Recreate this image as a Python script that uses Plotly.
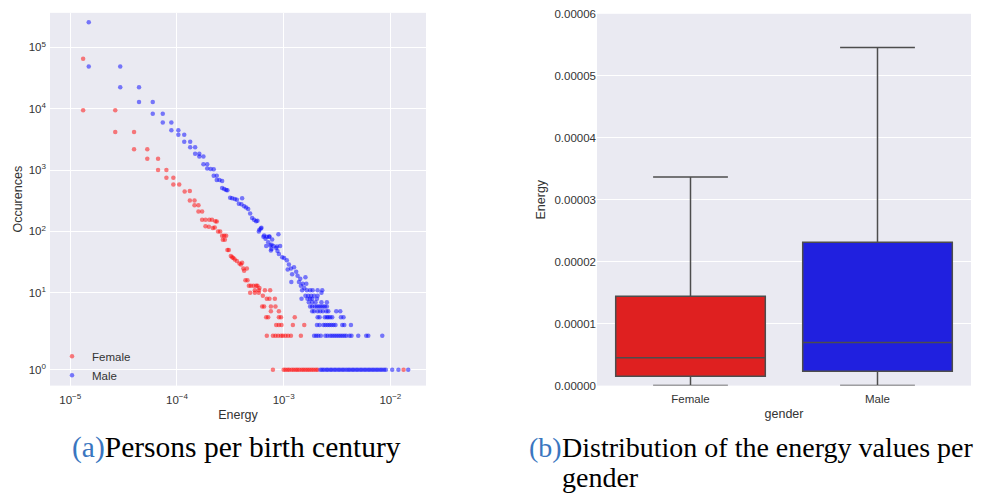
import numpy as np
import plotly.graph_objects as go

# ---------------------------------------------------------------- data
# (a) energy value vs. number of persons having it
female_energy = [
    1.32e-5, 1.32e-5, 2.64e-5, 2.64e-5, 3.96e-5, 3.96e-5, 5.27e-5, 5.27e-5,
    6.65e-5, 6.65e-5, 7.96e-5, 7.96e-5, 9.25e-5, 9.25e-5, 1.05e-4, 1.18e-4,
    1.32e-4, 1.32e-4, 1.46e-4, 1.46e-4, 1.59e-4, 1.59e-4, 1.72e-4, 1.72e-4,
    1.85e-4, 2.01e-4, 2.13e-4, 2.29e-4, 2.36e-4, 1.85e-4, 1.99e-4, 2.17e-4, 2.26e-4,
    2.43e-4, 2.54e-4, 2.65e-4, 2.77e-4, 2.89e-4, 2.69e-4, 2.81e-4,
    2.97e-4, 3.06e-4, 3.20e-4, 3.29e-4, 3.38e-4, 3.48e-4, 3.64e-4, 3.85e-4, 4.08e-4, 3.97e-4,
    4.19e-4, 4.52e-4, 4.26e-4, 4.38e-4, 4.58e-4,
    4.72e-4, 4.92e-4, 5.21e-4, 5.52e-4, 5.68e-4, 5.93e-4,
    5.37e-4, 5.85e-4, 6.67e-4, 7.47e-4,
    4.85e-4, 5.37e-4, 5.85e-4, 6.38e-4,
    6.95e-4, 7.36e-4, 8.27e-4,
    6.29e-4, 6.56e-4, 7.59e-4, 8.38e-4,
    7.59e-4, 9.02e-4,
    6.86e-4, 7.16e-4, 9.02e-4, 9.43e-4, 1.27e-3,
    8.51e-4, 9.02e-4, 9.54e-4, 1.22e-3, 1.56e-3,
    6.95e-4, 7.93e-4, 8.38e-4, 8.87e-4, 9.43e-4, 9.82e-4, 1.04e-3, 1.10e-3, 1.17e-3, 1.45e-3,
    7.93e-4, 1.00e-3, 1.04e-3, 1.09e-3, 1.13e-3, 1.19e-3, 1.24e-3, 1.30e-3, 1.35e-3, 1.41e-3,
    1.48e-3, 1.54e-3, 1.61e-3, 1.68e-3, 1.75e-3, 1.83e-3, 1.91e-3, 2.00e-3, 2.08e-3, 1.33e-2,
]
female_count = [
    65200, 9440, 9440, 4180, 4180, 2180, 2180, 1530,
    1530, 1000, 1000, 747, 747, 583, 583, 447,
    458, 318, 318, 267, 267, 212, 212, 155,
    155, 155, 155, 147, 145, 122, 119, 114, 116,
    100, 100, 85, 85, 85, 73, 73,
    50, 50, 40, 38, 37, 35, 33, 30, 31, 29,
    25, 25, 23, 16, 16,
    13, 13, 13, 13, 13, 12,
    11, 11, 11, 11,
    10, 10, 10, 9,
    8, 8, 8,
    6, 6, 6, 6,
    5, 5,
    4, 4, 4, 4, 4,
    3, 3, 3, 3, 3,
    2, 2, 2, 2, 2, 2, 2, 2, 2, 2,
    1, 1, 1, 1, 1, 1, 1, 1, 1, 1,
    1, 1, 1, 1, 1, 1, 1, 1, 1, 1,
]

male_energy = [
    1.49e-5, 1.49e-5, 2.94e-5, 2.94e-5, 4.41e-5, 4.41e-5, 5.93e-5, 5.93e-5,
    7.36e-5, 7.36e-5, 8.86e-5, 8.86e-5, 1.03e-4, 1.03e-4, 1.17e-4, 1.17e-4,
    1.33e-4, 1.33e-4, 1.48e-4, 1.48e-4, 1.62e-4, 1.62e-4, 1.77e-4, 1.77e-4,
    1.92e-4, 1.92e-4, 2.07e-4, 2.21e-4, 2.21e-4, 2.36e-4, 2.36e-4, 2.50e-4,
    2.65e-4, 2.65e-4, 2.77e-4, 2.89e-4, 2.97e-4, 3.15e-4, 3.29e-4, 3.48e-4,
    3.64e-4, 4.08e-4, 3.80e-4, 4.02e-4, 4.26e-4, 4.45e-4, 4.65e-4, 4.85e-4,
    5.06e-4, 5.28e-4, 5.52e-4, 5.68e-4, 5.93e-4, 6.11e-4, 5.85e-4, 6.19e-4,
    6.56e-4, 6.95e-4, 7.36e-4, 7.80e-4, 8.93e-4, 7.16e-4, 7.69e-4, 6.86e-4,
    8.02e-4, 8.51e-4, 8.75e-4, 7.59e-4, 6.46e-4, 6.76e-4, 7.31e-4, 7.47e-4,
    8.65e-4, 9.27e-4, 7.69e-4, 9.02e-4, 9.69e-4, 1.01e-3, 1.07e-3, 1.12e-3,
    1.09e-3, 1.17e-3, 1.25e-3, 1.31e-3, 1.20e-3, 1.35e-3, 1.43e-3, 1.60e-3,
    1.18e-3, 1.39e-3, 1.51e-3, 1.63e-3, 1.45e-3, 1.56e-3, 1.65e-3, 1.77e-3,
    1.49e-3, 1.87e-3, 2.08e-3, 2.30e-3, 2.26e-3,
    1.60e-3, 1.70e-3, 1.81e-3, 1.93e-3, 2.08e-3,
    1.47e-3, 1.67e-3, 1.77e-3, 1.85e-3, 2.05e-3,
    1.72e-3, 1.85e-3, 1.99e-3, 2.26e-3, 2.54e-3,
    1.77e-3, 1.85e-3, 1.96e-3, 2.05e-3, 2.14e-3, 2.23e-3, 2.33e-3, 2.43e-3, 2.54e-3,
    1.85e-3, 1.93e-3, 2.08e-3, 2.20e-3, 2.33e-3, 2.51e-3, 2.62e-3, 3.11e-3, 3.39e-3,
    2.08e-3, 2.17e-3, 2.43e-3, 2.54e-3, 2.62e-3, 2.73e-3, 2.85e-3, 3.44e-3, 3.64e-3,
    2.05e-3, 2.17e-3, 2.36e-3, 2.46e-3, 2.58e-3, 2.69e-3, 2.81e-3, 2.93e-3, 3.06e-3,
    3.54e-3, 3.70e-3, 4.27e-3,
    1.93e-3, 2.02e-3, 2.11e-3, 2.23e-3, 2.46e-3, 2.58e-3, 2.73e-3, 2.85e-3, 2.98e-3,
    3.11e-3, 3.25e-3, 3.39e-3, 3.54e-3, 3.70e-3, 3.86e-3, 4.14e-3, 4.32e-3, 5.00e-3,
    5.94e-3, 6.21e-3, 8.40e-3,
    2.21e-3, 2.30e-3, 2.39e-3, 2.51e-3, 2.60e-3, 2.73e-3, 2.83e-3, 2.97e-3, 3.09e-3,
    3.24e-3, 3.37e-3, 3.53e-3, 3.67e-3, 3.85e-3, 4.02e-3, 4.18e-3, 4.38e-3, 4.55e-3,
    4.77e-3, 4.96e-3, 5.20e-3, 5.41e-3, 5.67e-3, 5.90e-3, 6.18e-3, 6.43e-3, 6.73e-3,
    7.01e-3, 7.34e-3, 7.64e-3, 8.00e-3, 8.33e-3, 8.72e-3, 9.08e-3, 1.04e-2, 1.19e-2,
    1.47e-2,
]
male_count = [
    255000, 48600, 48600, 22300, 22300, 12860, 12860, 8280,
    8280, 5960, 5960, 4440, 4440, 3780, 3780, 2890,
    2890, 2350, 2350, 1850, 1850, 1670, 1670, 1250,
    1250, 1065, 1040, 1030, 811, 811, 686, 686,
    661, 512, 493, 475, 467, 355, 346, 337,
    330, 346, 284, 277, 258, 246, 233, 197,
    166, 155, 147, 150, 107, 112, 100, 115,
    86, 82, 83, 74, 90, 67, 61, 58,
    58, 54, 48, 49, 82, 76, 82, 59,
    57, 58, 52, 43, 38, 37, 34, 29,
    24, 25, 26, 22, 20, 19, 17, 18,
    15, 15, 14, 14, 13, 12, 11, 11,
    11, 11, 11, 11, 10,
    9, 9, 9, 9, 9,
    8, 8, 8, 8, 8,
    7, 7, 7, 7, 7,
    6, 6, 6, 6, 6, 6, 6, 6, 6,
    5, 5, 5, 5, 5, 5, 5, 5, 5,
    4, 4, 4, 4, 4, 4, 4, 4, 4,
    3, 3, 3, 3, 3, 3, 3, 3, 3,
    3, 3, 3,
    2, 2, 2, 2, 2, 2, 2, 2, 2,
    2, 2, 2, 2, 2, 2, 2, 2, 2,
    2, 2, 2,
    1, 1, 1, 1, 1, 1, 1, 1, 1,
    1, 1, 1, 1, 1, 1, 1, 1, 1,
    1, 1, 1, 1, 1, 1, 1, 1, 1,
    1, 1, 1, 1, 1, 1, 1, 1, 1,
    1,
]
assert len(female_energy) == len(female_count)
assert len(male_energy) == len(male_count)

# (b) box-plot summary of the energy values per gender
genders = ["Female", "Male"]
energy_q1 = [1.53e-6, 2.32e-6]
energy_median = [4.48e-6, 6.94e-6]
energy_q3 = [1.442e-5, 2.314e-5]
energy_low = [0.0, 0.0]
energy_high = [3.366e-5, 5.457e-5]
box_colors = ["rgb(223,32,32)", "rgb(32,32,223)"]

count_ticks = [1, 10, 100, 1000, 10000, 100000]
energy_ticks = [1e-5, 1e-4, 1e-3, 1e-2]

# ---------------------------------------------------------------- helpers
# symmetric-log scale (linear below the threshold, log10 above)
LINTHRESH = 2.0
LINSCALE_ADJ = 1.0 / (1.0 - 1.0 / 10.0)


def symlog(values):
    v = np.asarray(values, dtype=float)
    return np.where(
        v <= LINTHRESH,
        v * LINSCALE_ADJ,
        LINTHRESH * (LINSCALE_ADJ + np.log10(np.maximum(v, LINTHRESH) / LINTHRESH)),
    )


W, H = 984, 497


def px(x):
    return x / W


def py(y):
    return 1 - y / H


FONT = "Liberation Sans, Arial, sans-serif"
TXT = "#333333"
BG = "#EAEAF2"

fig = go.Figure()

fig.add_trace(go.Scatter(
    x=female_energy, y=symlog(female_count), customdata=female_count,
    mode="markers", name="Female",
    marker=dict(size=4.5, color="rgba(255,0,0,0.5)", line=dict(width=0)),
    hovertemplate="%{x}: %{customdata}<extra>Female</extra>",
    xaxis="x", yaxis="y",
))
fig.add_trace(go.Scatter(
    x=male_energy, y=symlog(male_count), customdata=male_count,
    mode="markers", name="Male",
    marker=dict(size=4.5, color="rgba(0,0,255,0.5)", line=dict(width=0)),
    hovertemplate="%{x}: %{customdata}<extra>Male</extra>",
    xaxis="x", yaxis="y",
))

for i, g in enumerate(genders):
    fig.add_trace(go.Box(
        x=[g], q1=[energy_q1[i]], median=[energy_median[i]], q3=[energy_q3[i]],
        lowerfence=[energy_low[i]], upperfence=[energy_high[i]],
        fillcolor=box_colors[i], line=dict(color="#4d4d4d", width=1.5),
        width=0.8, whiskerwidth=0.5, boxpoints=False, showlegend=False, name=g,
        xaxis="x2", yaxis="y2",
    ))

y_lo, y_hi = 0.597, 12.744

fig.update_layout(
    width=W, height=H,
    margin=dict(l=0, r=0, t=0, b=0),
    paper_bgcolor="white", plot_bgcolor=BG,
    font=dict(family=FONT, size=11.5, color=TXT),
    boxmode="overlay",
    showlegend=True,
    legend=dict(
        x=px(52), y=py(344), xanchor="left", yanchor="top",
        bgcolor="rgba(0,0,0,0)", font=dict(size=11.5, color=TXT),
        itemwidth=30, tracegroupgap=0,
    ),
    xaxis=dict(
        domain=[px(50), px(426)], anchor="y", type="log",
        range=[-5.190, -1.666],
        tickvals=energy_ticks,
        ticktext=["10<sup>−5</sup>", "10<sup>−4</sup>", "10<sup>−3</sup>", "10<sup>−2</sup>"],
        showgrid=True, gridcolor="white", gridwidth=1, zeroline=False,
        showline=False, ticks="", ticklabelstandoff=6,
        title=dict(text="Energy", font=dict(size=12.5), standoff=5),
    ),
    yaxis=dict(
        domain=[py(389), py(7)], anchor="x",
        range=[y_lo, y_hi],
        tickvals=list(symlog(count_ticks)),
        ticktext=["10<sup>%d</sup>" % k for k in range(6)],
        showgrid=True, gridcolor="white", gridwidth=1, zeroline=False,
        showline=False, ticks="", ticklabelstandoff=3,
        title=dict(text="Occurences", font=dict(size=12.5), standoff=3),
    ),
    xaxis2=dict(
        domain=[px(597), px(971)], anchor="y2",
        categoryorder="array", categoryarray=genders,
        range=[-0.5, 1.5],
        showgrid=False, zeroline=False, showline=False, ticks="",
        ticklabelstandoff=5,
        title=dict(text="gender", font=dict(size=12.5), standoff=5),
    ),
    yaxis2=dict(
        domain=[py(389), py(8)], anchor="x2",
        range=[0, 6e-5], dtick=1e-5, tickformat=".5f",
        showgrid=True, gridcolor="white", gridwidth=1, zeroline=False,
        showline=False, ticks="",
        title=dict(text="Energy", font=dict(size=12.5), standoff=6),
    ),
)

# sub-figure captions
SERIF = "Liberation Serif, Times New Roman, serif"
CAP_BLUE = "#3a76c0"
fig.add_annotation(
    xref="paper", yref="paper", x=px(70), y=py(452), xanchor="left", yanchor="middle",
    text="<span style='color:%s'>(a)</span>Persons per birth century" % CAP_BLUE,
    showarrow=False, font=dict(family=SERIF, size=29.5, color="black"),
)
fig.add_annotation(
    xref="paper", yref="paper", x=px(527), y=py(452), xanchor="left", yanchor="middle",
    text="(b)", showarrow=False, font=dict(family=SERIF, size=28, color=CAP_BLUE),
)
fig.add_annotation(
    xref="paper", yref="paper", x=px(560), y=py(452), xanchor="left", yanchor="middle",
    text="Distribution of the energy values per", showarrow=False,
    font=dict(family=SERIF, size=28, color="black"),
)
fig.add_annotation(
    xref="paper", yref="paper", x=px(560), y=py(483), xanchor="left", yanchor="middle",
    text="gender", showarrow=False, font=dict(family=SERIF, size=28, color="black"),
)

fig.write_html("out.html")
